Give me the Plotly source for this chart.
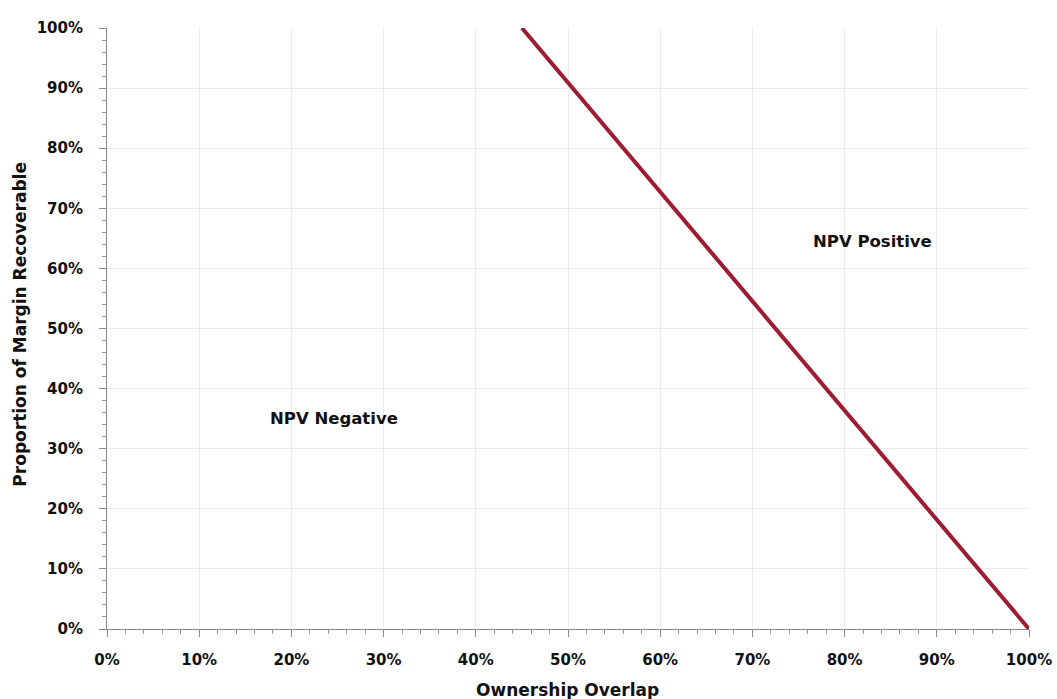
import plotly.graph_objects as go

# Data
overlap = [0.45, 1.00]          # Ownership Overlap
recoverable = [1.00, 0.00]      # Proportion of Margin Recoverable
tick_vals = [0, 0.1, 0.2, 0.3, 0.4, 0.5, 0.6, 0.7, 0.8, 0.9, 1.0]
tick_text = ["0%", "10%", "20%", "30%", "40%", "50%", "60%", "70%", "80%", "90%", "100%"]
labels = ["NPV Negative", "NPV Positive"]
label_x = [0.246, 0.83]
label_y = [0.351, 0.644]
x_title = "Ownership Overlap"
y_title = "Proportion of Margin Recoverable"

FONT = "DejaVu Sans"

fig = go.Figure()
fig.add_trace(go.Scatter(
    x=overlap, y=recoverable, mode="lines",
    line=dict(color="#9E1B32", width=4), showlegend=False, hoverinfo="skip"))

for t, x, y in zip(labels, label_x, label_y):
    fig.add_annotation(x=x, y=y, text="<b>" + t + "</b>", showarrow=False,
                       font=dict(family=FONT, size=16.5, color="#111111"))

# axis titles as paper-anchored annotations for exact placement
fig.add_annotation(xref="paper", yref="paper", x=0.499, y=-0.1015,
                   text="<b>" + x_title + "</b>", showarrow=False,
                   xanchor="center", yanchor="middle",
                   font=dict(family=FONT, size=17, color="#111111"))
fig.add_annotation(xref="paper", yref="paper", x=-0.094, y=0.507,
                   text="<b>" + y_title + "</b>", showarrow=False, textangle=-90,
                   xanchor="center", yanchor="middle",
                   font=dict(family=FONT, size=17, color="#111111"))

axis_common = dict(
    range=[0, 1], tickvals=tick_vals, ticktext=tick_text,
    showgrid=True, gridcolor="#EBEBEB", gridwidth=1,
    showline=True, linecolor="#8A8A8A", linewidth=1,
    ticks="outside", ticklen=7, tickcolor="#8A8A8A",
    minor=dict(ticks="outside", dtick=0.02, ticklen=4, tickcolor="#9A9A9A", showgrid=False),
    tickfont=dict(family=FONT, size=15, color="#111111", weight="bold"),
    zeroline=False, fixedrange=True, automargin=False,
)

fig.update_layout(
    width=1057, height=699,
    margin=dict(l=107, r=28, t=28, b=70),
    plot_bgcolor="white", paper_bgcolor="white",
    xaxis=dict(**axis_common, ticklabelstandoff=10),
    yaxis=dict(**axis_common, ticklabelstandoff=13),
)

fig.write_html("out.html", config={"displayModeBar": False},
               post_script="document.body.style.margin='0px';document.body.style.overflow='hidden';")
